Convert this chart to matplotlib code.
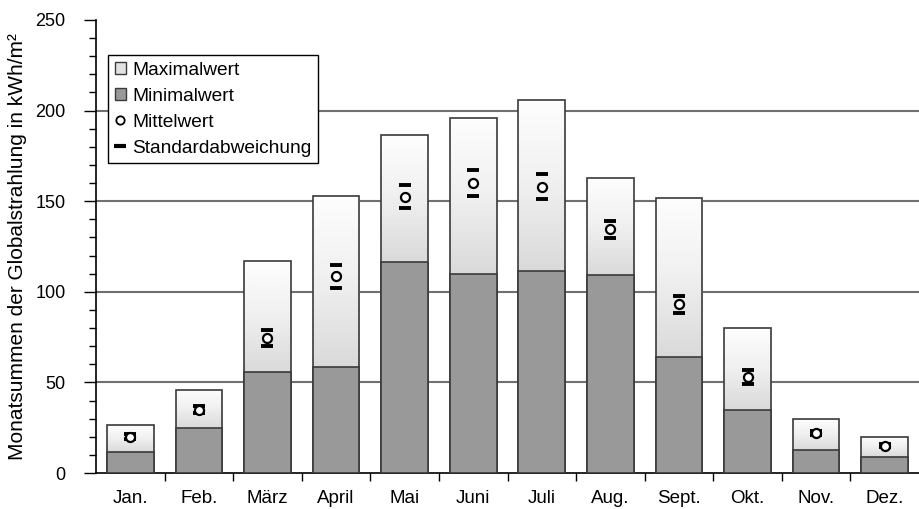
#Monatssummen der Globalstrahlung: Max/Min/Mittel/Std je Monat
import numpy as np
import matplotlib.pyplot as plt
from matplotlib.patches import Patch
from matplotlib.lines import Line2D

plt.rcParams['font.family'] = ['Liberation Sans', 'DejaVu Sans']

#data (kWh/m²)
months = ['Jan.', 'Feb.', 'März', 'April', 'Mai', 'Juni', 'Juli', 'Aug.', 'Sept.', 'Okt.', 'Nov.', 'Dez.']
max_vals = [26.5, 46, 117, 153, 186.5, 196, 206, 163, 152, 80, 30, 20]
min_vals = [11.6, 25, 56, 58.5, 116.5, 110, 111.5, 109, 64, 35, 12.7, 8.8]
mean_vals = [20, 35, 74.5, 108.5, 152.5, 160, 158, 134.5, 93, 53, 22, 15]
std_vals = [1.5, 1.8, 4.4, 6.3, 6.4, 7.2, 7.0, 4.6, 4.6, 3.7, 1.2, 0.8]

fig = plt.figure(figsize=(9.19, 5.09), dpi=100)
ax = fig.add_axes([96/919, 36/509, 823/919, 453/509])

x = np.arange(len(months))
w = 0.68
edge = '#3a3a3a'

#gradient for the max part, white on top to grey at the min bar
grad = np.linspace(0, 1, 100).reshape(-1, 1)
for i in range(len(months)):
    ax.imshow(grad, cmap='Greys', vmin=-0.05, vmax=4.2, origin='upper', aspect='auto',
              extent=[x[i] - w/2, x[i] + w/2, min_vals[i], max_vals[i]], zorder=2, interpolation='bilinear')
ax.bar(x, max_vals, width=w, facecolor='none', edgecolor=edge, linewidth=1.2, zorder=3)
ax.bar(x, min_vals, width=w, color='#999999', edgecolor=edge, linewidth=1.2, zorder=3)

#standard deviation dashes and mean circles
mean_arr = np.array(mean_vals)
std_arr = np.array(std_vals)
ax.plot(x, mean_arr + std_arr, linestyle='none', marker='_', markersize=9, mew=2.8, color='black', zorder=4)
ax.plot(x, mean_arr - std_arr, linestyle='none', marker='_', markersize=9, mew=2.8, color='black', zorder=4)
ax.plot(x, mean_arr, linestyle='none', marker='o', markersize=6.5, mfc='white', mec='black', mew=1.6, zorder=5)

#axes formatting
ax.set_xlim(-0.5, len(months) - 0.5)
ax.set_ylim(0, 250)
ax.set_yticks(np.arange(0, 251, 50))
ax.set_yticks(np.arange(0, 251, 10), minor=True)
ax.set_xticks(x)
ax.set_xticklabels(months, fontsize=13.5)
ax.set_xticks(np.arange(0.5, len(months) - 0.5, 1), minor=True)
ax.tick_params(axis='x', which='major', length=0, pad=12)
ax.tick_params(axis='x', which='minor', length=6, width=1, direction='out')
ax.tick_params(axis='y', which='major', length=9, width=1, labelsize=13, pad=13)
ax.tick_params(axis='y', which='minor', length=5, width=1)
for yv in [50, 100, 150, 200]:
    ax.axhline(yv, color='#707070', linewidth=1.5, zorder=1)
for s in ['top', 'right']:
    ax.spines[s].set_visible(False)
ax.spines['left'].set_linewidth(1.2)
ax.spines['bottom'].set_linewidth(1.2)
ax.set_ylabel('Monatsummen der Globalstrahlung in kWh/m²', fontsize=15, labelpad=6)

#legend
handles = [
    Patch(facecolor='#e2e2e2', edgecolor=edge, label='Maximalwert'),
    Patch(facecolor='#999999', edgecolor=edge, label='Minimalwert'),
    Line2D([], [], linestyle='none', marker='o', markersize=6, mfc='white', mec='black', mew=1.3, label='Mittelwert'),
    Line2D([], [], linestyle='none', marker='_', markersize=9, mew=3, color='black', label='Standardabweichung'),
]
leg = ax.legend(handles=handles, loc='upper left', bbox_to_anchor=(0.0146, 0.923), fontsize=13.8,
                fancybox=False, edgecolor='black', framealpha=1, handlelength=0.6, handleheight=0.6,
                handletextpad=0.3, labelspacing=0.47, borderpad=0.35, borderaxespad=0)
leg.get_frame().set_linewidth(1)
leg.set_zorder(6)

fig.savefig('out.png', dpi=100)
